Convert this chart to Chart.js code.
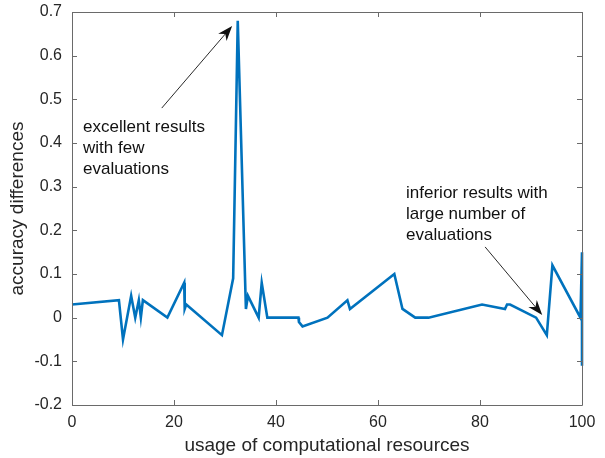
<!DOCTYPE html>
<html>
<head>
<meta charset="utf-8">
<script src="https://cdn.jsdelivr.net/npm/chart.js@4"></script>
<style>
  html, body { margin: 0; padding: 0; background: #fff; }
  #wrap { width: 605px; height: 458px; }
</style>
</head>
<body>
<div id="wrap"><canvas id="accChart" width="605" height="458"></canvas></div>
<script>
// usage of computational resources (x) and accuracy differences (y)
const usage = [0, 9.2, 10.0, 11.6, 12.4, 13.1, 13.5, 13.9, 18.7, 22.0, 22.1, 22.4, 29.4, 31.6, 32.5,
  34.1, 34.5, 36.6, 37.2, 38.3, 44.4, 44.5, 45.2, 50.1, 54.0, 54.5, 63.2, 64.8, 67.3, 69.9,
  80.4, 84.9, 85.3, 85.9, 91.0, 93.1, 94.2, 99.7, 100, 100];
const accDiff = [0.03, 0.04, -0.05, 0.05, 0, 0.04, 0, 0.04, 0, 0.08, 0.02, 0.03, -0.04, 0.09, 0.68,
  0.02, 0.05, 0, 0.08, 0, 0, -0.01, -0.02, 0, 0.04, 0.02, 0.10, 0.02, 0, 0,
  0.03, 0.02, 0.03, 0.03, 0, -0.04, 0.12, 0, 0.15, -0.11];

const xTicks = [0, 20, 40, 60, 80, 100];
const yTicks = [-0.2, -0.1, 0, 0.1, 0.2, 0.3, 0.4, 0.5, 0.6, 0.7];

// annotation texts (placed in data units) and arrows [fromX, fromY, toX, toY]
const noteGood = ["excellent results", "with few", "evaluations"];
const noteBad = ["inferior results with", "large number of", "evaluations"];
const noteGoodPos = [2.16, 0.437];
const noteBadPos = [65.5, 0.284];
const arrowGood = [17.6, 0.480, 31.4, 0.668];
const arrowBad = [81.0, 0.162, 92.2, 0.006];

const FONT = "'Liberation Sans', Arial, Helvetica, sans-serif";
const AXIS_COLOR = "#6a6a6a";

const points = [];
for (let i = 0; i < usage.length; i++) {
  points.push({ x: usage[i], y: accDiff[i] });
}

// draws the matlab style box, inward ticks and the annotations
const boxPlugin = {
  id: "boxPlugin",
  afterDraw(chart) {
    const ctx = chart.ctx;
    const a = chart.chartArea;
    const xs = chart.scales.x;
    const ys = chart.scales.y;
    const t = 5;
    ctx.save();
    ctx.strokeStyle = AXIS_COLOR;
    ctx.lineWidth = 1;
    ctx.beginPath();
    ctx.rect(a.left + 0.5, a.top + 0.5, a.right - a.left, a.bottom - a.top);
    xTicks.forEach(function (v) {
      const px = Math.round(xs.getPixelForValue(v)) + 0.5;
      ctx.moveTo(px, a.bottom); ctx.lineTo(px, a.bottom - t);
      ctx.moveTo(px, a.top); ctx.lineTo(px, a.top + t);
    });
    yTicks.forEach(function (v) {
      const py = Math.round(ys.getPixelForValue(v)) + 0.5;
      ctx.moveTo(a.left, py); ctx.lineTo(a.left + t, py);
      ctx.moveTo(a.right, py); ctx.lineTo(a.right - t, py);
    });
    ctx.stroke();

    // annotation text
    ctx.fillStyle = "#111";
    ctx.font = "17px " + FONT;
    ctx.textBaseline = "middle";
    ctx.textAlign = "left";
    function drawNote(lines, pos) {
      const x0 = xs.getPixelForValue(pos[0]);
      const y0 = ys.getPixelForValue(pos[1]);
      lines.forEach(function (s, i) {
        ctx.fillText(s, x0, y0 + i * 21);
      });
    }
    drawNote(noteGood, noteGoodPos);
    drawNote(noteBad, noteBadPos);

    // arrows
    function drawArrow(arr) {
      const x1 = xs.getPixelForValue(arr[0]), y1 = ys.getPixelForValue(arr[1]);
      const x2 = xs.getPixelForValue(arr[2]), y2 = ys.getPixelForValue(arr[3]);
      const ang = Math.atan2(y2 - y1, x2 - x1);
      const len = 15, half = 5.5;
      ctx.strokeStyle = "#111";
      ctx.lineWidth = 0.9;
      ctx.beginPath();
      ctx.moveTo(x1, y1);
      ctx.lineTo(x2 - Math.cos(ang) * len * 0.6, y2 - Math.sin(ang) * len * 0.6);
      ctx.stroke();
      ctx.fillStyle = "#111";
      ctx.beginPath();
      ctx.moveTo(x2, y2);
      ctx.lineTo(x2 - Math.cos(ang) * len - Math.sin(ang) * half, y2 - Math.sin(ang) * len + Math.cos(ang) * half);
      ctx.lineTo(x2 - Math.cos(ang) * len * 0.7, y2 - Math.sin(ang) * len * 0.7);
      ctx.lineTo(x2 - Math.cos(ang) * len + Math.sin(ang) * half, y2 - Math.sin(ang) * len - Math.cos(ang) * half);
      ctx.closePath();
      ctx.fill();
    }
    drawArrow(arrowGood);
    drawArrow(arrowBad);
    ctx.restore();
  }
};

new Chart(document.getElementById("accChart"), {
  type: "scatter",
  data: {
    datasets: [{
      data: points,
      showLine: true,
      borderColor: "#0072BD",
      borderWidth: 2.6,
      pointRadius: 0,
      tension: 0,
      clip: false
    }]
  },
  options: {
    responsive: false,
    animation: false,
    layout: { padding: { top: 12, right: 23, left: 0, bottom: 0 } },
    plugins: { legend: { display: false }, tooltip: { enabled: false } },
    scales: {
      x: {
        type: "linear",
        min: 0,
        max: 100,
        afterFit(scale) {
          scale.height = 53;
          scale.paddingLeft = 0;
          scale.paddingRight = 0;
        },
        afterBuildTicks(scale) { scale.ticks = xTicks.map(function (v) { return { value: v }; }); },
        grid: { display: false, drawTicks: false },
        border: { display: false },
        ticks: { color: "#262626", font: { family: FONT, size: 16 }, padding: 8, maxRotation: 0 },
        title: {
          display: true,
          text: "usage of computational resources",
          color: "#262626",
          font: { family: FONT, size: 19 },
          padding: { top: 0, bottom: 1 }
        }
      },
      y: {
        min: -0.2,
        max: 0.7,
        afterFit(scale) {
          scale.width = 72;
          scale.paddingTop = 0;
          scale.paddingBottom = 0;
        },
        afterBuildTicks(scale) { scale.ticks = yTicks.map(function (v) { return { value: v }; }); },
        grid: { display: false, drawTicks: false },
        border: { display: false },
        ticks: {
          color: "#262626",
          font: { family: FONT, size: 16 },
          padding: 10,
          callback: function (v) { return String(Math.round(v * 10) / 10); }
        },
        title: {
          display: true,
          text: "accuracy differences",
          color: "#262626",
          font: { family: FONT, size: 19 },
          padding: { top: 6, bottom: 2 }
        }
      }
    }
  },
  plugins: [boxPlugin]
});
</script>
</body>
</html>
